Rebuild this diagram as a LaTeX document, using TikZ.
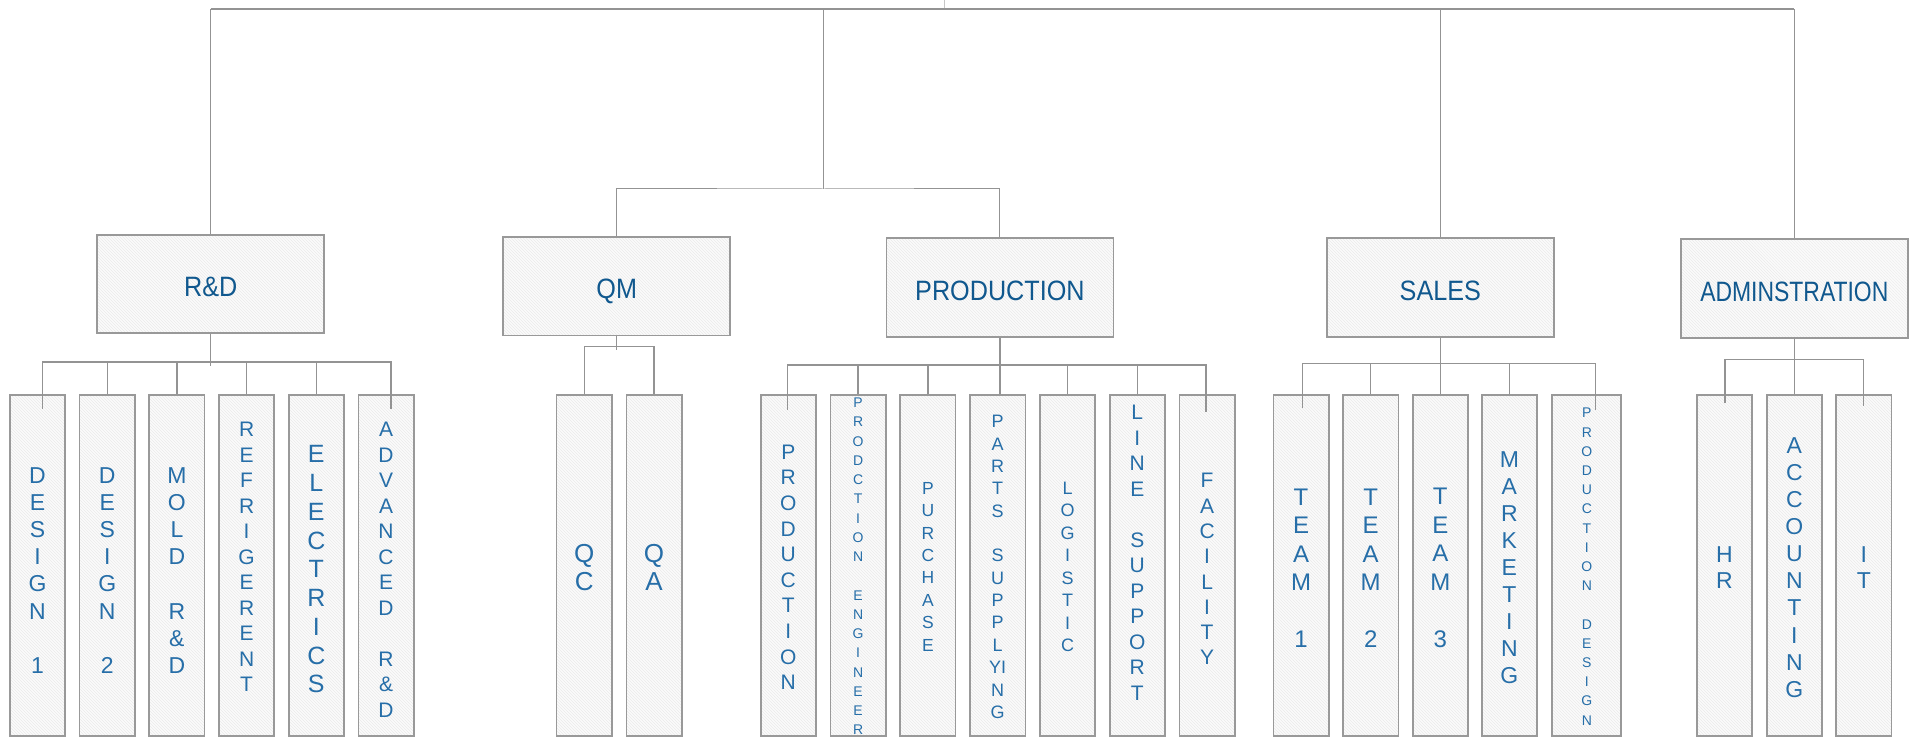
\documentclass[tikz,border=0pt]{standalone}
\usepackage{fontspec}
\setmainfont{Liberation Sans}
\newfontfamily\headfont[FakeStretch=0.9]{Liberation Sans}
\usetikzlibrary{patterns}

\definecolor{headblue}{RGB}{16,88,142}
\definecolor{subblue}{RGB}{38,110,168}
\newcommand\letters[2]{\fontsize{#1}{#2}\selectfont}

\begin{document}
\begin{tikzpicture}[x=1pt, y=-1pt,
    link/.style={draw=gray!85, line width=1.3pt},
    toplink/.style={draw=gray!85, line width=1pt},
    head/.style={draw=gray!80, line width=1.7pt, preaction={fill=gray!3},
        pattern=north west lines, pattern color=gray!16,
        minimum width=227pt, minimum height=98.5pt, inner sep=0pt,
        text=headblue, text height=25.5pt, text depth=0pt,
        font=\headfont\fontsize{28}{32}\selectfont},
    sub/.style={draw=gray!80, line width=1.7pt, preaction={fill=gray!3},
        pattern=north west lines, pattern color=gray!16,
        minimum width=55.3pt, minimum height=341pt, inner sep=0pt},
    vtext/.style={text=subblue, align=center, inner sep=0pt}]
    \useasboundingbox (0,0) rectangle (1916,738);

    % departments
    \node[head] (rd) at (210.7,284) {R\&D};
    \node[head] (qm) at (616.7,286.2) {QM};
    \node[head] (prod) at (999.9,287.5) {PRODUCTION};
    \node[head] (sales) at (1440.3,287.5) {SALES};
    \node[head] (adm) at (1794.3,288.5) {\scalebox{0.91}[1]{ADMINSTRATION}};

    % teams
    \foreach \n/\x in {1/37.5, 2/107.2, 3/176.9, 4/246.6, 5/316.3, 6/386}
        \node[sub] (rd\n) at (\x,565.5) {};
    \foreach \n/\x in {1/584.2, 2/654}
        \node[sub] (qm\n) at (\x,565.5) {};
    \foreach \n/\x in {1/788.3, 2/858.1, 3/927.9, 4/997.7, 5/1067.5, 6/1137.3, 7/1207.1}
        \node[sub] (pr\n) at (\x,565.5) {};
    \foreach \n/\x in {1/1301, 2/1370.7, 3/1440.3, 4/1509.4}
        \node[sub] (sa\n) at (\x,565.5) {};
    \node[sub, minimum width=69pt] (sa5) at (1586.8,565.5) {};
    \foreach \n/\x in {1/1724.5, 2/1794.3, 3/1863.8}
        \node[sub] (ad\n) at (\x,565.5) {};

    % top level
    \coordinate (root) at (944.6,0);
    \coordinate (topbus) at (944.6,9);
    \coordinate (qpbus) at (823.6,189);
    \draw[toplink, draw=gray!45] (root) -- (topbus);
    \draw[toplink, line width=1.8pt] (rd.north |- topbus) -- (adm.north |- topbus);
    \draw[toplink] (rd.north) -- (rd.north |- topbus);
    \draw[toplink] (adm.north) -- (adm.north |- topbus);
    \draw[toplink] (sales.north) -- (sales.north |- topbus);
    \draw[toplink] (qpbus) -- (qpbus |- topbus);
    \draw[toplink] (qm.north) |- (qpbus) -| (prod.north);

    % R&D
    \coordinate (rdbus) at (210.7,362);
    \coordinate (rdL) at (42.3,409);
    \coordinate (rdR) at (391,409);
    \draw[link] (rdL) |- (rdbus) -| (rdR);
    \draw[link] (rd.south) -- ++(0,32);
    \foreach \n in {2,...,5}
        \draw[link] (rd\n.north) -- (rd\n.north |- rdbus);

    % QM
    \coordinate (qmbus) at (616.7,346.7);
    \draw[link] (qm.south) -- ++(0,13.6);
    \draw[link] (qm1.north) |- (qmbus) -| (qm2.north);

    % PRODUCTION
    \coordinate (prbus) at (1000,365);
    \coordinate (prL) at (787.8,410);
    \coordinate (prR) at (1206.1,412);
    \draw[link] (prL) |- (prbus) -| (prR);
    \draw[link] (prod.south) -- (prod.south |- pr4.north);
    \foreach \n in {2,3,5,6}
        \draw[link] (pr\n.north) -- (pr\n.north |- prbus);

    % SALES
    \coordinate (sabus) at (1440.3,363.3);
    \coordinate (saL) at (1302.3,408.3);
    \coordinate (saR) at (1595.3,410);
    \draw[link] (saL) |- (sabus) -| (saR);
    \draw[link] (sales.south) -- (sa3.north);
    \foreach \n in {2,4}
        \draw[link] (sa\n.north) -- (sa\n.north |- sabus);

    % ADMINSTRATION
    \coordinate (adbus) at (1794.3,359.3);
    \coordinate (adL) at (1724.9,403.3);
    \coordinate (adR) at (1863.8,406);
    \draw[link] (adL) |- (adbus) -| (adR);
    \draw[link] (adm.south) -- (ad2.north);

    % team names
    \node[vtext, font=\letters{23}{27.2}] (rd1t) at (37.5,570.3) {D\\E\\S\\I\\G\\N\\~\\1};
    \node[vtext, font=\letters{23}{27.2}] (rd2t) at (107.2,570.3) {D\\E\\S\\I\\G\\N\\~\\2};
    \node[vtext, font=\letters{23}{27.2}] (rd3t) at (176.9,570.3) {M\\O\\L\\D\\~\\R\\\&\\D};
    \node[vtext, font=\letters{21}{25.5}] (rd4t) at (246.6,556.8) {R\\E\\F\\R\\I\\G\\E\\R\\E\\N\\T};
    \node[vtext, font=\letters{25}{28.75}] (rd5t) at (316.3,569.3) {E\\L\\E\\C\\T\\R\\I\\C\\S};
    \node[vtext, font=\letters{21}{25.5}] (rd6t) at (386,569.7) {A\\D\\V\\A\\N\\C\\E\\D\\~\\R\\\&\\D};

    \node[vtext, font=\letters{26}{28.3}] (qm1t) at (584.2,567.5) {Q\\C};
    \node[vtext, font=\letters{26}{28.3}] (qm2t) at (654,567.5) {Q\\A};

    \node[vtext, font=\letters{21}{25.6}] (pr1t) at (788.3,567.3) {P\\R\\O\\D\\U\\C\\T\\I\\O\\N};
    \node[vtext, font=\letters{14}{19.25}] (pr2t) at (858.1,566.4) {P\\R\\O\\D\\C\\T\\I\\O\\N\\~\\E\\N\\G\\I\\N\\E\\E\\R};
    \node[vtext, font=\letters{17.5}{22.4}] (pr3t) at (927.9,566.7) {P\\U\\R\\C\\H\\A\\S\\E};
    \node[vtext, font=\letters{18}{22.35}] (pr4t) at (997.7,567) {P\\A\\R\\T\\S\\~\\S\\U\\P\\P\\L\\YI\\N\\G};
    \node[vtext, font=\letters{18}{22.5}] (pr5t) at (1067.5,567) {L\\O\\G\\I\\S\\T\\I\\C};
    \node[vtext, font=\letters{21}{25.5}] (pr6t) at (1137.3,553) {L\\I\\N\\E\\~\\S\\U\\P\\P\\O\\R\\T};
    \node[vtext, font=\letters{21}{25.3}] (pr7t) at (1207.1,569.2) {F\\A\\C\\I\\L\\I\\T\\Y};

    \node[vtext, font=\letters{24}{28.5}] (sa1t) at (1301,568) {T\\E\\A\\M\\~\\1};
    \node[vtext, font=\letters{24}{28.5}] (sa2t) at (1370.7,568) {T\\E\\A\\M\\~\\2};
    \node[vtext, font=\letters{24}{28.5}] (sa3t) at (1440.3,568) {T\\E\\A\\M\\~\\3};
    \node[vtext, font=\letters{23}{27}] (sa4t) at (1509.4,567.2) {M\\A\\R\\K\\E\\T\\I\\N\\G};
    \node[vtext, font=\letters{14}{19.2}] (sa5t) at (1586.8,566.7) {P\\R\\O\\D\\U\\C\\T\\I\\O\\N\\~\\D\\E\\S\\I\\G\\N};

    \node[vtext, font=\letters{23}{26.7}] (ad1t) at (1724.5,567.7) {H\\R};
    \node[vtext, font=\letters{23}{27.1}] (ad2t) at (1794.3,567.5) {A\\C\\C\\O\\U\\N\\T\\I\\N\\G};
    \node[vtext, font=\letters{23}{26.7}] (ad3t) at (1863.8,567.7) {I\\T};
\end{tikzpicture}
\end{document}
